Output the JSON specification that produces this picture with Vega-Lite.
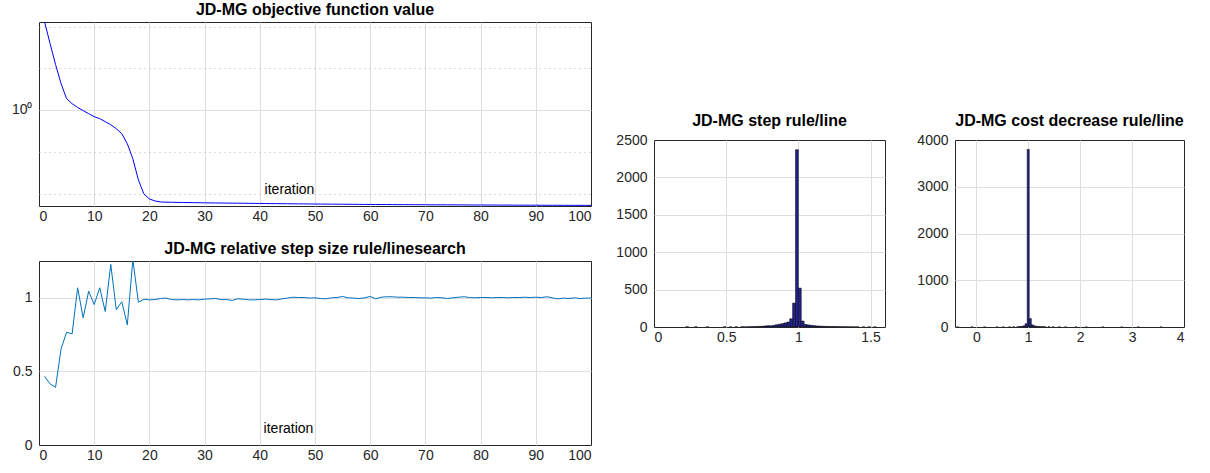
{
  "$schema": "https://vega.github.io/schema/vega-lite/v6.json",
  "background": "white",
  "padding": {"left": 10, "top": 1, "right": 0, "bottom": 0},
  "config": {
    "font": "Liberation Sans",
    "view": {"stroke": "#262626", "strokeWidth": 1},
    "axis": {
      "labelFont": "Liberation Sans", "labelFontSize": 14, "labelColor": "#262626",
      "domain": false, "ticks": false, "tickSize": 0,
      "gridColor": "#dedede", "gridWidth": 1,
      "titleFont": "Liberation Sans", "titleFontSize": 14, "titleFontWeight": "normal", "titleColor": "#000000"
    },
    "axisX": {"labelPadding": 3},
    "axisY": {"labelPadding": 7},
    "title": {"font": "Liberation Sans", "fontSize": 16, "fontWeight": "bold", "color": "#000000", "offset": 4}
  },
  "datasets": {
    "it": [
      {"it":1,"f":1.0212,"s":0.467},{"it":2,"f":1.0159,"s":0.415},{"it":3,"f":1.0108,"s":0.392},{"it":4,"f":1.0062,"s":0.653},{"it":5,"f":1.0026,"s":0.766},
      {"it":6,"f":1.0014,"s":0.755},{"it":7,"f":1.0005,"s":1.068},{"it":8,"f":0.99975,"s":0.864},{"it":9,"f":0.99903,"s":1.045},{"it":10,"f":0.99831,"s":0.954},
      {"it":11,"f":0.99784,"s":1.068},{"it":12,"f":0.99712,"s":0.907},{"it":13,"f":0.9964,"s":1.227},{"it":14,"f":0.99545,"s":0.92},{"it":15,"f":0.99426,"s":0.973},
      {"it":16,"f":0.99188,"s":0.816},{"it":17,"f":0.98833,"s":1.26},{"it":18,"f":0.98338,"s":0.97},{"it":19,"f":0.98008,"s":0.99},{"it":20,"f":0.97891,"s":0.986},
      {"it":21,"f":0.97844,"s":0.988},{"it":22,"f":0.97821,"s":0.995},{"it":23,"f":0.97816,"s":0.998},{"it":24,"f":0.97813,"s":0.988},{"it":25,"f":0.9781,"s":0.986},
      {"it":26,"f":0.97808,"s":0.988},{"it":27,"f":0.97806,"s":0.986},{"it":28,"f":0.97804,"s":0.988},{"it":29,"f":0.97802,"s":0.986},{"it":30,"f":0.978,"s":0.991},
      {"it":31,"f":0.97798,"s":0.993},{"it":32,"f":0.97797,"s":0.995},{"it":33,"f":0.97795,"s":0.988},{"it":34,"f":0.97794,"s":0.988},{"it":35,"f":0.97792,"s":0.982},
      {"it":36,"f":0.97791,"s":0.993},{"it":37,"f":0.9779,"s":0.991},{"it":38,"f":0.97788,"s":0.986},{"it":39,"f":0.97787,"s":0.986},{"it":40,"f":0.97785,"s":0.988},
      {"it":41,"f":0.97784,"s":0.991},{"it":42,"f":0.97782,"s":0.988},{"it":43,"f":0.97781,"s":0.986},{"it":44,"f":0.9778,"s":0.993},{"it":45,"f":0.97779,"s":0.998},
      {"it":46,"f":0.97777,"s":1.004},{"it":47,"f":0.97776,"s":1.002},{"it":48,"f":0.97775,"s":1.002},{"it":49,"f":0.97773,"s":0.998},{"it":50,"f":0.97772,"s":1.0},
      {"it":51,"f":0.97771,"s":0.995},{"it":52,"f":0.9777,"s":0.993},{"it":53,"f":0.97769,"s":1.0},{"it":54,"f":0.97768,"s":1.002},{"it":55,"f":0.97767,"s":1.009},
      {"it":56,"f":0.97766,"s":1.0},{"it":57,"f":0.97765,"s":0.998},{"it":58,"f":0.97764,"s":0.995},{"it":59,"f":0.97763,"s":1.0},{"it":60,"f":0.97762,"s":1.009},
      {"it":61,"f":0.97761,"s":0.993},{"it":62,"f":0.9776,"s":1.004},{"it":63,"f":0.9776,"s":1.007},{"it":64,"f":0.97759,"s":1.007},{"it":65,"f":0.97758,"s":1.004},
      {"it":66,"f":0.97758,"s":1.004},{"it":67,"f":0.97757,"s":1.002},{"it":68,"f":0.97756,"s":1.002},{"it":69,"f":0.97756,"s":1.0},{"it":70,"f":0.97755,"s":1.0},
      {"it":71,"f":0.97754,"s":0.998},{"it":72,"f":0.97754,"s":1.002},{"it":73,"f":0.97753,"s":1.0},{"it":74,"f":0.97753,"s":0.995},{"it":75,"f":0.97752,"s":1.0},
      {"it":76,"f":0.97752,"s":1.004},{"it":77,"f":0.97751,"s":1.007},{"it":78,"f":0.9775,"s":1.002},{"it":79,"f":0.9775,"s":1.0},{"it":80,"f":0.97749,"s":1.002},
      {"it":81,"f":0.97749,"s":1.002},{"it":82,"f":0.97748,"s":1.0},{"it":83,"f":0.97748,"s":1.002},{"it":84,"f":0.97747,"s":1.002},{"it":85,"f":0.97747,"s":1.0},
      {"it":86,"f":0.97746,"s":1.002},{"it":87,"f":0.97746,"s":1.002},{"it":88,"f":0.97745,"s":1.004},{"it":89,"f":0.97745,"s":1.002},{"it":90,"f":0.97744,"s":1.004},
      {"it":91,"f":0.97744,"s":1.002},{"it":92,"f":0.97743,"s":1.007},{"it":93,"f":0.97743,"s":1.0},{"it":94,"f":0.97743,"s":0.993},{"it":95,"f":0.97742,"s":0.998},
      {"it":96,"f":0.97742,"s":0.995},{"it":97,"f":0.97741,"s":1.0},{"it":98,"f":0.97741,"s":0.995},{"it":99,"f":0.9774,"s":0.998},{"it":100,"f":0.9774,"s":0.998}
    ],
    "h1": [
      {"lo":0.22,"hi":0.24,"n":3},{"lo":0.28,"hi":0.30,"n":2},{"lo":0.36,"hi":0.38,"n":1},{"lo":0.48,"hi":0.50,"n":2},{"lo":0.52,"hi":0.54,"n":1},
      {"lo":0.56,"hi":0.58,"n":2},{"lo":0.60,"hi":0.62,"n":3},{"lo":0.62,"hi":0.64,"n":2},{"lo":0.64,"hi":0.66,"n":3},{"lo":0.66,"hi":0.68,"n":4},
      {"lo":0.68,"hi":0.70,"n":5},{"lo":0.70,"hi":0.72,"n":6},{"lo":0.72,"hi":0.74,"n":8},{"lo":0.74,"hi":0.76,"n":10},{"lo":0.76,"hi":0.78,"n":14},
      {"lo":0.78,"hi":0.80,"n":18},{"lo":0.80,"hi":0.82,"n":16},{"lo":0.82,"hi":0.84,"n":22},{"lo":0.84,"hi":0.86,"n":30},{"lo":0.86,"hi":0.88,"n":38},
      {"lo":0.88,"hi":0.90,"n":45},{"lo":0.90,"hi":0.92,"n":55},{"lo":0.92,"hi":0.94,"n":67},{"lo":0.94,"hi":0.96,"n":110},{"lo":0.96,"hi":0.98,"n":320},
      {"lo":0.98,"hi":1.00,"n":2370},{"lo":1.00,"hi":1.02,"n":520},{"lo":1.02,"hi":1.04,"n":80},{"lo":1.04,"hi":1.06,"n":35},{"lo":1.06,"hi":1.08,"n":28},
      {"lo":1.08,"hi":1.10,"n":22},{"lo":1.10,"hi":1.12,"n":18},{"lo":1.12,"hi":1.14,"n":14},{"lo":1.14,"hi":1.16,"n":12},{"lo":1.16,"hi":1.18,"n":10},
      {"lo":1.18,"hi":1.20,"n":8},{"lo":1.20,"hi":1.22,"n":7},{"lo":1.22,"hi":1.24,"n":6},{"lo":1.24,"hi":1.26,"n":6},{"lo":1.26,"hi":1.28,"n":5},
      {"lo":1.28,"hi":1.30,"n":4},{"lo":1.30,"hi":1.32,"n":4},{"lo":1.32,"hi":1.34,"n":3},{"lo":1.34,"hi":1.36,"n":3},{"lo":1.36,"hi":1.38,"n":2},
      {"lo":1.38,"hi":1.40,"n":2},{"lo":1.40,"hi":1.42,"n":2},{"lo":1.44,"hi":1.46,"n":1},{"lo":1.48,"hi":1.50,"n":1},{"lo":1.52,"hi":1.54,"n":1}
    ],
    "h2": [
      {"lo":-0.38,"hi":-0.34,"n":1},{"lo":-0.10,"hi":-0.06,"n":1},{"lo":0.14,"hi":0.18,"n":1},{"lo":0.38,"hi":0.42,"n":1},{"lo":0.50,"hi":0.54,"n":2},
      {"lo":0.62,"hi":0.66,"n":2},{"lo":0.70,"hi":0.74,"n":3},{"lo":0.78,"hi":0.82,"n":5},{"lo":0.82,"hi":0.86,"n":8},{"lo":0.86,"hi":0.90,"n":12},
      {"lo":0.90,"hi":0.94,"n":25},{"lo":0.94,"hi":0.98,"n":70},{"lo":0.98,"hi":1.02,"n":3800},{"lo":1.02,"hi":1.06,"n":180},{"lo":1.06,"hi":1.10,"n":45},
      {"lo":1.10,"hi":1.14,"n":25},{"lo":1.14,"hi":1.18,"n":15},{"lo":1.18,"hi":1.22,"n":10},{"lo":1.22,"hi":1.26,"n":8},{"lo":1.26,"hi":1.30,"n":6},
      {"lo":1.30,"hi":1.34,"n":5},{"lo":1.38,"hi":1.42,"n":4},{"lo":1.46,"hi":1.50,"n":3},{"lo":1.58,"hi":1.62,"n":2},{"lo":1.70,"hi":1.74,"n":2},
      {"lo":1.90,"hi":1.94,"n":1},{"lo":2.10,"hi":2.14,"n":1},{"lo":2.42,"hi":2.46,"n":1},{"lo":2.78,"hi":2.82,"n":1},{"lo":3.10,"hi":3.14,"n":1},
      {"lo":3.54,"hi":3.58,"n":1}
    ]
  },
  "spacing": 23,
  "hconcat": [
    {
      "spacing": 16,
      "vconcat": [
        {
          "width": 552, "height": 184,
          "view": {"stroke": "#262626"},
          "title": "JD-MG objective function value",
          "data": {"name": "it"},
          "mark": {"type": "line", "color": "#0000ff", "strokeWidth": 1, "clip": true},
          "encoding": {
            "x": {"field": "it", "type": "quantitative",
                  "scale": {"domain": [0, 100], "nice": false},
                  "axis": {"values": [0,10,20,30,40,50,60,70,80,90,100], "title": "iteration",
                           "gridOpacity": {"condition": {"test": "datum.value == 0 || datum.value == 100", "value": 0}, "value": 1},
                           "titleX": 250, "titleY": -17, "titleBaseline": "middle", "titleAlign": "center"}},
            "y": {"field": "f", "type": "quantitative",
                  "scale": {"type": "log", "domain": [0.97726, 1.02111], "nice": false},
                  "axis": {"values": [0.98, 0.99, 1, 1.01, 1.02], "title": null,
                           "labelExpr": "datum.value == 1 ? '10⁰' : ''",
                           "gridDash": {"condition": {"test": "datum.value == 1", "value": []}, "value": [1, 4]},
                           "gridColor": {"condition": {"test": "datum.value == 1", "value": "#dedede"}, "value": "#b5b5b5"}}}
          }
        },
        {
          "width": 552, "height": 184,
          "view": {"stroke": "#262626"},
          "title": "JD-MG relative step size rule/linesearch",
          "data": {"name": "it"},
          "mark": {"type": "line", "color": "#0072bd", "strokeWidth": 1, "clip": true},
          "encoding": {
            "x": {"field": "it", "type": "quantitative",
                  "scale": {"domain": [0, 100], "nice": false},
                  "axis": {"values": [0,10,20,30,40,50,60,70,80,90,100], "title": "iteration",
                           "gridOpacity": {"condition": {"test": "datum.value == 0 || datum.value == 100", "value": 0}, "value": 1},
                           "titleX": 249, "titleY": -17, "titleBaseline": "middle", "titleAlign": "center"}},
            "y": {"field": "s", "type": "quantitative",
                  "scale": {"domain": [0, 1.25], "nice": false},
                  "axis": {"values": [0, 0.5, 1], "format": "~g", "title": null,
                           "gridOpacity": {"condition": {"test": "datum.value == 0", "value": 0}, "value": 1}}}
          }
        }
      ]
    },
    {
      "spacing": 0,
      "vconcat": [
        {
          "width": 1, "height": 90,
          "view": {"stroke": null},
          "data": {"values": []},
          "mark": {"type": "point", "opacity": 0},
          "encoding": {}
        },
        {
          "spacing": 30,
          "hconcat": [
            {
              "width": 231, "height": 187,
              "view": {"stroke": "#262626"},
              "title": "JD-MG step rule/line",
              "data": {"name": "h1"},
              "mark": {"type": "bar", "fill": "#22228a", "stroke": "#000000", "strokeWidth": 0.5, "clip": true},
              "encoding": {
                "x": {"field": "lo", "type": "quantitative",
                      "scale": {"domain": [0, 1.6], "nice": false, "zero": false},
                      "axis": {"values": [0, 0.5, 1, 1.5], "format": "~g", "title": null,
                               "gridOpacity": {"condition": {"test": "datum.value == 0", "value": 0}, "value": 1}}},
                "x2": {"field": "hi"},
                "y": {"field": "n", "type": "quantitative",
                      "scale": {"domain": [0, 2500], "nice": false},
                      "axis": {"values": [0, 500, 1000, 1500, 2000, 2500], "format": "d", "title": null,
                               "gridOpacity": {"condition": {"test": "datum.value == 0 || datum.value == 2500", "value": 0}, "value": 1}}},
                "y2": {"datum": 0}
              }
            },
            {
              "width": 229, "height": 187,
              "view": {"stroke": "#262626"},
              "title": "JD-MG cost decrease rule/line",
              "data": {"name": "h2"},
              "mark": {"type": "bar", "fill": "#22228a", "stroke": "#000000", "strokeWidth": 0.5, "clip": true},
              "encoding": {
                "x": {"field": "lo", "type": "quantitative",
                      "scale": {"domain": [-0.41, 4], "nice": false, "zero": false},
                      "axis": {"values": [0, 1, 2, 3, 4], "format": "d", "title": null,
                               "gridOpacity": {"condition": {"test": "datum.value == 4", "value": 0}, "value": 1}}},
                "x2": {"field": "hi"},
                "y": {"field": "n", "type": "quantitative",
                      "scale": {"domain": [0, 4000], "nice": false},
                      "axis": {"values": [0, 1000, 2000, 3000, 4000], "format": "d", "title": null,
                               "gridOpacity": {"condition": {"test": "datum.value == 0 || datum.value == 4000", "value": 0}, "value": 1}}},
                "y2": {"datum": 0}
              }
            }
          ]
        }
      ]
    }
  ]
}
